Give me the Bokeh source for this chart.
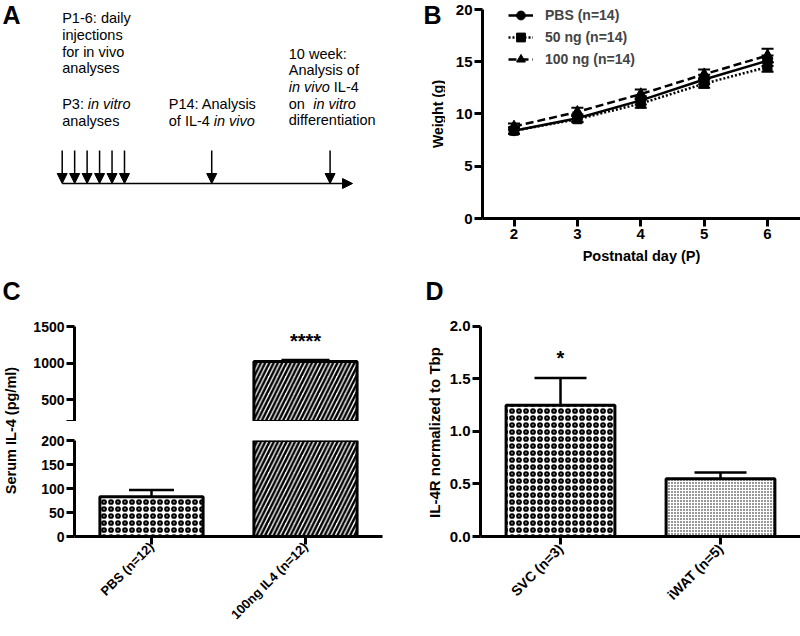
import math
from bokeh.plotting import figure
from bokeh.layouts import row, column
from bokeh.models import (ColumnDataSource, Range1d, FactorRange, Label, Arrow,
                          NormalHead, Whisker, TeeHead, Legend, LegendItem, FixedTicker,
                          PrintfTickFormatter)
from bokeh.core.properties import value, field
from bokeh.embed import file_html
from bokeh.resources import INLINE

FONT = "Liberation Sans"

# ---------------- data ----------------
# Panel A: schematic timeline (P1-P6 injections, P14, 10 week)
timeline_labels = ["P1", "P2", "P3", "P4", "P5", "P6", "P14", "10 week"]
timeline_pos = [1, 2, 3, 4, 5, 6, 13, 22.5]

# Panel B: body weight
days = [2, 3, 4, 5, 6]
pbs_weight = [8.4, 9.6, 11.3, 13.3, 15.1]
pbs_sem = [0.30, 0.35, 0.40, 0.45, 0.50]
ng50_weight = [8.4, 9.5, 11.0, 12.9, 14.5]
ng50_sem = [0.30, 0.30, 0.40, 0.40, 0.45]
ng100_weight = [8.8, 10.2, 11.9, 13.8, 15.6]
ng100_sem = [0.30, 0.40, 0.45, 0.45, 0.65]
b_names = ["PBS (n=14)", "50 ng (n=14)", "100 ng (n=14)"]

# Panel C: serum IL-4
il4_groups = ["PBS (n=12)", "100ng IL4 (n=12)"]
il4_mean = [83, 1020]
il4_sem = [14, 20]
il4_sig = ["", "****"]

# Panel D: IL-4R expression
il4r_groups = ["SVC (n=3)", "iWAT (n=5)"]
il4r_mean = [1.25, 0.55]
il4r_sem = [0.26, 0.06]
il4r_sig = ["*", ""]

# ---------------- helpers ----------------
def base_fig(**kw):
    p = figure(output_backend="svg", toolbar_location=None, **kw)
    p.outline_line_color = None
    p.xgrid.grid_line_color = None
    p.ygrid.grid_line_color = None
    p.background_fill_color = "white"
    p.border_fill_color = "white"
    return p


def style_axes(p, tick_size="15px", label_size="14.5px"):
    for ax in p.xaxis + p.yaxis:
        ax.axis_line_width = 3
        ax.axis_line_color = "black"
        ax.major_tick_line_width = 3
        ax.major_tick_line_color = "black"
        ax.major_tick_out = 8
        ax.major_tick_in = 0
        ax.minor_tick_line_color = None
        ax.major_label_text_font = FONT
        ax.major_label_text_font_style = "bold"
        ax.major_label_text_font_size = tick_size
        ax.major_label_text_color = "black"
        ax.major_label_standoff = 2
        ax.axis_label_text_font = FONT
        ax.axis_label_text_font_style = "bold"
        ax.axis_label_text_font_size = label_size
        ax.axis_label_text_color = "black"


def add_text(p, x, y, text, size="25px", style="bold", angle=0.0, align="left",
             baseline="alphabetic", dx=0):
    p.add_layout(Label(x=x, y=y, text=text, angle=angle, x_offset=dx,
                       text_font=FONT, text_font_style=style, text_font_size=size,
                       text_baseline=baseline, text_align=align, text_color="black"))


ROW1 = 274     # height of the top row
BOT_T = 56     # bottom border of the top row   (frames end at y=218)
BOT_R = 100    # bottom border of the bottom row (frames end at y=536)
ROW2 = 636 - ROW1
LETTER_UP = 8  # Bokeh puts the alphabetic baseline a little low
SMALL_UP = 5

# ---------------- Panel A (plus B's letter and y title) ----------------
def px2pos(px):
    # schematic timeline unit -> layout helper for annotation placement
    return 1 + (px - 61.7) / 12.46


pA = base_fig(width=445, height=ROW1, x_range=Range1d(px2pos(0), px2pos(445)),
              y_range=Range1d(218, 0),
              x_axis_location=None, y_axis_location=None,
              min_border_left=0, min_border_right=0, min_border_top=0, min_border_bottom=BOT_T)
arrow_src = ColumnDataSource(dict(x=timeline_pos,
                                  y0=[150] * len(timeline_pos),
                                  y1=[183] * len(timeline_pos)))
pA.add_layout(Arrow(x_start="x", y_start="y0", x_end="x", y_end="y1", source=arrow_src,
                    line_width=1.5, line_color="black",
                    end=NormalHead(size=10, fill_color="black", line_color="black", line_width=1)))
pA.add_layout(Arrow(x_start=timeline_pos[0], y_start=183, x_end=timeline_pos[-1] + 1.8, y_end=183,
                    line_width=1.5, line_color="black",
                    end=NormalHead(size=10, fill_color="black", line_color="black", line_width=1)))

LH = 16.7
blocks = [
    (1, 22.7, [[("P1-6: daily", False, 0)], [("injections", False, 0)],
               [("for in vivo", False, 0)], [("analyses", False, 0)]]),
    (1, 108.3, [[("P3: ", False, 0), ("in vitro", True, 25.6)], [("analyses", False, 0)]]),
    (px2pos(168.3), 108.3, [[("P14: Analysis", False, 0)],
                            [("of IL-4 ", False, 0), ("in vivo", True, 45)]]),
    (px2pos(288.3), 58.0, [[("10 week:", False, 0)], [("Analysis of", False, 0)],
                           [("in vivo", True, 0), ("IL-4", False, 45)],
                           [("on", False, 0), ("in vitro", True, 24.4)],
                           [("differentiation", False, 0)]]),
]
for bx, by, lines in blocks:
    for i, segs in enumerate(lines):
        for t, it, dx in segs:
            add_text(pA, bx, by + i * LH - SMALL_UP, t, size="14.5px",
                     style="italic" if it else "normal", dx=dx)
add_text(pA, px2pos(2), 22 - LETTER_UP, "A")
add_text(pA, px2pos(423), 22 - LETTER_UP, "B")
add_text(pA, px2pos(437), 113.5, "Weight (g)", size="14px", angle=math.pi / 2,
         align="center", baseline="middle")

# ---------------- Panel B ----------------
pB = base_fig(width=355, height=ROW1, x_range=Range1d(1.503, 6.52), y_range=Range1d(0, 20.86),
              min_border_left=37, min_border_right=0, min_border_top=0, min_border_bottom=BOT_T)
style_axes(pB)
pB.xaxis.ticker = FixedTicker(ticks=days)
pB.yaxis.ticker = FixedTicker(ticks=[0, 5, 10, 15, 20])
pB.yaxis.bounds = (0, 20)
pB.xaxis.axis_label = "Postnatal day (P)"
pB.xaxis.axis_label_standoff = 6

b_series = [(b_names[0], pbs_weight, pbs_sem, "solid", "circle", 10),
            (b_names[1], ng50_weight, ng50_sem, "2 2", "square", 9),
            (b_names[2], ng100_weight, ng100_sem, "8 4", "triangle", 11)]
items = []
for name, w, s, dash, marker, msize in b_series:
    src = ColumnDataSource(dict(x=days, y=w,
                                lo=[a - b for a, b in zip(w, s)],
                                hi=[a + b for a, b in zip(w, s)]))
    pB.add_layout(Whisker(base="x", lower="lo", upper="hi", source=src,
                          line_width=2, line_color="black",
                          upper_head=TeeHead(size=12, line_width=2, line_color="black"),
                          lower_head=TeeHead(size=12, line_width=2, line_color="black")))
    lr = pB.line("x", "y", source=src, line_width=2.5, line_color="black", line_dash=dash)
    sr = pB.scatter("x", "y", source=src, marker=marker, size=msize,
                    fill_color="black", line_color="black")
    items.append(LegendItem(label=name, renderers=[lr, sr]))
leg = Legend(items=items, location=(26, 218 - 70), label_text_font=FONT,
             label_text_font_style="bold", label_text_font_size="14px",
             glyph_width=25, glyph_height=22, label_height=22, spacing=0,
             padding=0, margin=0, border_line_color=None, background_fill_alpha=0,
             label_standoff=12)
pB.add_layout(leg)

# ---------------- Panel C ----------------
c_hatch = ["ring", "right_diagonal_line"]
c_hscale = [7, 8.5]
c_hweight = [2.2, 2.5]
C_BREAK = 200


def c_source(keep):
    idx = [i for i in range(len(il4_groups)) if keep(il4_mean[i])]
    return ColumnDataSource(dict(g=[il4_groups[i] for i in idx],
                                 mean=[il4_mean[i] for i in idx],
                                 hi=[il4_mean[i] + il4_sem[i] for i in idx],
                                 sig=[il4_sig[i] for i in idx],
                                 hatch=[c_hatch[i] for i in idx],
                                 hs=[c_hscale[i] for i in idx],
                                 hw=[c_hweight[i] for i in idx]))


xc = FactorRange(factors=il4_groups, range_padding=0)

pCt = base_fig(width=30, height=ROW2, x_range=Range1d(0, 30), y_range=Range1d(536, ROW1),
               x_axis_location=None, y_axis_location=None,
               min_border_left=0, min_border_right=0, min_border_top=0, min_border_bottom=BOT_R)
add_text(pCt, 2, 298 - LETTER_UP, "C")
add_text(pCt, 10, 430, "Serum IL-4 (pg/ml)", size="14.5px", angle=math.pi / 2,
         align="center", baseline="middle")

pCu = base_fig(width=370, height=421 - ROW1, x_range=xc, y_range=Range1d(C_BREAK, 2211.6),
               x_axis_location=None,
               min_border_left=37, min_border_right=18, min_border_top=0, min_border_bottom=0)
pCl = base_fig(width=370, height=636 - 421, x_range=xc, y_range=Range1d(0, C_BREAK),
               min_border_left=37, min_border_right=18, min_border_top=19, min_border_bottom=BOT_R)
src_hi = c_source(lambda m: m > C_BREAK)
src_all = c_source(lambda m: True)
for p, src in ((pCu, src_hi), (pCl, src_all)):
    style_axes(p, tick_size="14px")
    p.vbar(x="g", top="mean", bottom=0, width=0.67, source=src,
           fill_color="white", line_color="black", line_width=3,
           hatch_pattern=field("hatch"), hatch_scale=field("hs"), hatch_weight=field("hw"),
           hatch_color="black")
src_lo = c_source(lambda m: m <= C_BREAK)
pCu.add_layout(Whisker(base="g", lower="mean", upper="hi", source=src_hi,
                       line_width=2.5, line_color="black",
                       upper_head=TeeHead(size=48, line_width=2.5, line_color="black"),
                       lower_head=None))
pCl.add_layout(Whisker(base="g", lower="mean", upper="hi", source=src_lo,
                       line_width=2.5, line_color="black",
                       upper_head=TeeHead(size=45, line_width=2.5, line_color="black"),
                       lower_head=None))
pCu.yaxis.ticker = FixedTicker(ticks=[200, 500, 1000, 1500])
pCu.yaxis.bounds = (C_BREAK, 1500)
pCu.yaxis.major_label_overrides = {200: ""}
pCl.yaxis.ticker = FixedTicker(ticks=[0, 50, 100, 150, 200])
pCl.xaxis.major_label_orientation = math.pi / 4
pCl.xaxis.major_label_text_font_size = "13px"
pCl.xaxis.major_label_standoff = 0
pCu.text(x="g", y="hi", text="sig", source=src_hi, y_offset=-19,
         text_font=value(FONT), text_font_style="bold", text_font_size="20px",
         text_align="center", text_baseline="middle", text_color="black")

# ---------------- Panel D ----------------
d_hatch = ["ring", "dot"]
d_hscale = [7, 3]
d_hweight = [2.2, 1.2]
d_src = ColumnDataSource(dict(g=il4r_groups, mean=il4r_mean,
                              hi=[m + s for m, s in zip(il4r_mean, il4r_sem)],
                              sig=il4r_sig, hatch=d_hatch, hs=d_hscale, hw=d_hweight))

pDt = base_fig(width=45, height=ROW2, x_range=Range1d(400, 445), y_range=Range1d(536, ROW1),
               x_axis_location=None, y_axis_location=None,
               min_border_left=0, min_border_right=0, min_border_top=0, min_border_bottom=BOT_R)
add_text(pDt, 425, 298 - LETTER_UP, "D")
add_text(pDt, 434, 432, "IL-4R normalized to Tbp", size="15px", angle=math.pi / 2,
         align="center", baseline="middle")

pD = base_fig(width=355, height=ROW2, x_range=FactorRange(factors=il4r_groups, range_padding=0),
              y_range=Range1d(0, 2.495),
              min_border_left=35, min_border_right=0, min_border_top=0, min_border_bottom=BOT_R)
style_axes(pD)
pD.yaxis.ticker = FixedTicker(ticks=[0, 0.5, 1.0, 1.5, 2.0])
pD.yaxis.bounds = (0, 2.0)
pD.yaxis.formatter = PrintfTickFormatter(format="%.1f")
pD.xaxis.major_label_orientation = math.pi / 4
pD.xaxis.major_label_text_font_size = "14px"
pD.vbar(x="g", top="mean", bottom=0, width=0.68, source=d_src,
        fill_color="white", line_color="black", line_width=3,
        hatch_pattern=field("hatch"), hatch_scale=field("hs"), hatch_weight=field("hw"),
        hatch_color="black")
pD.add_layout(Whisker(base="g", lower="mean", upper="hi", source=d_src,
                      line_width=2.5, line_color="black",
                      upper_head=TeeHead(size=52, line_width=2.5, line_color="black"),
                      lower_head=None))
pD.text(x="g", y="hi", text="sig", source=d_src, y_offset=-20,
        text_font=value(FONT), text_font_style="bold", text_font_size="20px",
        text_align="center", text_baseline="middle", text_color="black")

layout = column(row(pA, pB), row(pCt, column(pCu, pCl), pDt, pD))
open("out.html", "w").write(file_html(layout, INLINE))
